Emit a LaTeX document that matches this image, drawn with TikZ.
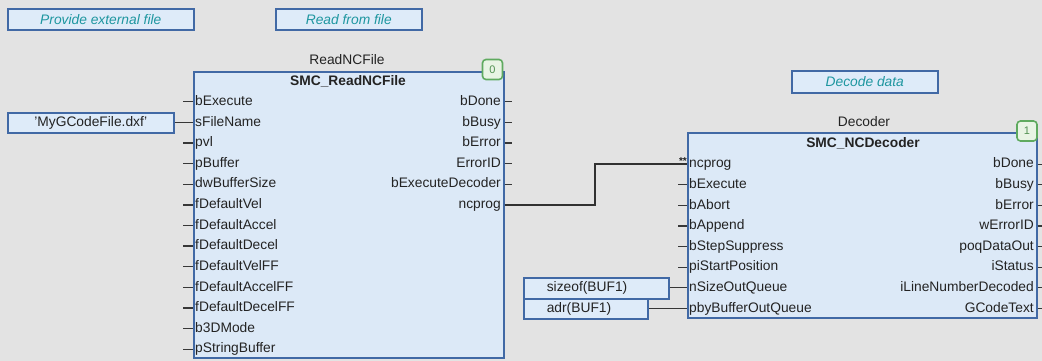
\documentclass[tikz,border=0pt]{standalone}
\usepackage{fontspec}
\setmainfont{Liberation Sans}
\usetikzlibrary{calc}
\definecolor{bg}{RGB}{227,227,227}
\definecolor{fbfill}{RGB}{220,233,247}
\definecolor{fbline}{RGB}{65,105,165}
\definecolor{cmtfill}{RGB}{222,235,249}
\definecolor{cmttext}{RGB}{30,150,160}
\definecolor{badgefill}{RGB}{232,244,228}
\definecolor{badgeline}{RGB}{95,170,95}
\definecolor{pincol}{RGB}{55,55,55}
\definecolor{txt}{RGB}{35,35,35}
\begin{document}
\begin{tikzpicture}[x=1pt,y=-1pt,
  font=\fontsize{13.8}{16}\selectfont,
  fb/.style={draw=fbline, fill=fbfill, line width=1.6pt, inner sep=0pt, anchor=north west},
  cmt/.style={draw=fbline, fill=cmtfill, line width=1.6pt, inner sep=0pt, anchor=north west,
    text=cmttext, font=\fontsize{13.8}{16}\selectfont\itshape},
  cst/.style={draw=fbline, fill=cmtfill, line width=1.6pt, inner sep=0pt, anchor=north west, text=txt},
  pinl/.style={inner sep=1pt, text=txt, text height=10pt, text depth=2.7pt},
  ttl/.style={inner sep=1pt, text=txt, font=\fontsize{13.8}{16}\selectfont\bfseries},
  inst/.style={inner sep=1pt, text=txt},
  badge/.style={draw=badgeline, fill=badgefill, line width=1.6pt, rounded corners=3.5pt,
    minimum width=20pt, minimum height=20pt, inner sep=0pt, text=badgeline!85!black,
    font=\fontsize{11}{12}\selectfont},
  stub/.style={draw=pincol, line width=1.3pt},
  wire/.style={draw=pincol!90!black, line width=2pt},
  cwire/.style={draw=pincol, line width=1.3pt}]
\useasboundingbox[fill=bg] (0,0) rectangle (1042,361);

% comments
\node[cmt, minimum width=186pt, minimum height=21pt] (c1) at (7,8) {Provide external file};
\node[cmt, minimum width=146pt, minimum height=21pt] (c2) at (275,8) {Read from file};
\node[cmt, minimum width=146pt, minimum height=22pt] (c3) at (791,70) {Decode data};

% block 1
\node[fb, minimum width=310pt, minimum height=286pt] (b1) at (193,71) {};
\node[inst] (b1name) at (347,60) {ReadNCFile};
\node[ttl] (b1type) at (348,81.5) {SMC\_ReadNCFile};
\node[badge] (b1badge) at (492.5,69.5) {0};
\foreach \n [count=\i from 0] in {bExecute,sFileName,pvl,pBuffer,dwBufferSize,fDefaultVel,fDefaultAccel,fDefaultDecel,fDefaultVelFF,fDefaultAccelFF,fDefaultDecelFF,b3DMode,pStringBuffer}{
  \pgfmathsetmacro\yy{101.8+20.62*\i}
  \node[pinl, anchor=west] (b1i\i) at (194,\yy) {\n};
  \coordinate (b1s\i) at (183,\yy);
  \draw[stub] (b1s\i) -- (b1.west |- b1s\i);
}
\foreach \n [count=\i from 0] in {bDone,bBusy,bError,ErrorID,bExecuteDecoder,ncprog}{
  \pgfmathsetmacro\yy{101.8+20.62*\i}
  \node[pinl, anchor=east] (b1o\i) at (502,\yy) {\n};
  \coordinate (b1t\i) at (512,\yy);
  \draw[stub] (b1.east |- b1t\i) -- (b1t\i);
}

% block 2
\node[fb, minimum width=349pt, minimum height=185pt] (b2) at (687,132) {};
\node[inst] (b2name) at (864,122) {Decoder};
\node[ttl] (b2type) at (863,143.5) {SMC\_NCDecoder};
\node[badge] (b2badge) at (1027,131) {1};
\foreach \n [count=\i from 0] in {ncprog,bExecute,bAbort,bAppend,bStepSuppress,piStartPosition,nSizeOutQueue,pbyBufferOutQueue}{
  \pgfmathsetmacro\yy{164.2+20.6*\i}
  \node[pinl, anchor=west] (b2i\i) at (688,\yy) {\n};
  \coordinate (b2s\i) at (678,\yy);
  \draw[stub] (b2s\i) -- (b2.west |- b2s\i);
}
\foreach \n [count=\i from 0] in {bDone,bBusy,bError,wErrorID,poqDataOut,iStatus,iLineNumberDecoded,GCodeText}{
  \pgfmathsetmacro\yy{164.2+20.6*\i}
  \node[pinl, anchor=east] (b2o\i) at (1035,\yy) {\n};
  \coordinate (b2t\i) at (1044,\yy);
  \draw[stub] (b2.east |- b2t\i) -- (b2t\i);
}

% constants
\node[cst, minimum width=166pt, minimum height=20pt] (k1) at (7,112) {'MyGCodeFile.dxf'};
\draw[cwire] (k1.east) -- (b1.west |- k1.east);
\node[cst, minimum width=145pt, minimum height=21pt, text width=145pt, align=left] (k2) at (523,277) {\hspace*{23pt}sizeof(BUF1)};
\node[cst, minimum width=124pt, minimum height=20pt, text width=124pt, align=left] (k3) at (523,298) {\hspace*{23pt}adr(BUF1)};
\draw[cwire] (k2.east |- b2i6) -- (b2.west |- b2i6);
\draw[cwire] (k3.east |- b2i7) -- (b2.west |- b2i7);

% ncprog wire
\coordinate (bend) at (595,0);
\draw[wire] (b1.east |- b1o5) -- (bend |- b1o5) -- (bend |- b2i0) -- (b2.west |- b2i0);
\node[inner sep=0pt, text=txt, font=\fontsize{10}{10}\selectfont\bfseries, anchor=east] (star) at (687,161) {**};
\end{tikzpicture}
\end{document}
